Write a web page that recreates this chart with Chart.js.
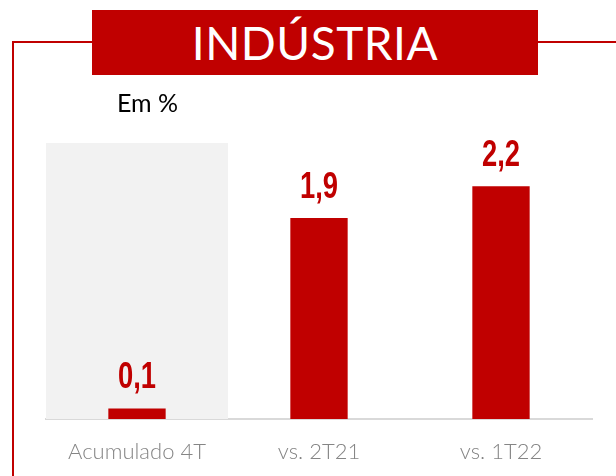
<!DOCTYPE html>
<html>
<head>
<meta charset="utf-8">
<script src="https://cdn.jsdelivr.net/npm/chart.js@4.4.0/dist/chart.umd.min.js"></script>
<style>
  html, body { margin: 0; padding: 0; background: #fff; }
  #wrap { position: relative; width: 616px; height: 476px; overflow: hidden; font-family: Lato, "Open Sans", sans-serif; }
  #wrap canvas { position: absolute; left: 0; top: 0; }
  .frame-top { position: absolute; top: 41px; height: 2px; background: #c00000; }
  .frame-left { position: absolute; left: 12px; top: 41px; width: 2px; height: 440px; background: #c00000; }
  #title {
    position: absolute; left: 92px; top: 10px; width: 446px; height: 65px;
    background: #c00000; color: #fff; font-size: 46px; line-height: 65px;
    text-align: center; letter-spacing: 0.5px;
  }
  #unit { position: absolute; left: 117px; top: 87px; font-size: 25px; color: #000; }
</style>
</head>
<body>
<div id="wrap">
  <canvas id="chart" width="616" height="476"></canvas>
  <div class="frame-top" style="left:12px;width:80px"></div>
  <div class="frame-top" style="left:538px;width:78px"></div>
  <div class="frame-left"></div>
  <div id="title">INDÚSTRIA</div>
  <div id="unit">Em %</div>
</div>
<script>
const categories = ['Acumulado 4T', 'vs. 2T21', 'vs. 1T22'];
const values = [0.1, 1.9, 2.2];
const valueLabels = ['0,1', '1,9', '2,2'];

const RED = '#c00000';

// gray panel behind the first category
const panelPlugin = {
    id: 'panel',
    beforeDatasetsDraw(chart) {
        const { ctx, chartArea, scales } = chart;
        const x = scales.x;
        const left = chartArea.left;
        const right = (x.getPixelForValue(0) + x.getPixelForValue(1)) / 2;
        ctx.save();
        ctx.fillStyle = '#f2f2f2';
        ctx.fillRect(left, chartArea.top, right - left, chartArea.bottom - chartArea.top);
        ctx.restore();
    }
};

// condensed bold value labels above the bars
const valuePlugin = {
    id: 'values',
    afterDatasetsDraw(chart) {
        const { ctx } = chart;
        const meta = chart.getDatasetMeta(0);
        meta.data.forEach((bar, i) => {
            ctx.save();
            ctx.fillStyle = RED;
            ctx.font = 'bold 36px "Liberation Sans", sans-serif';
            ctx.textAlign = 'center';
            ctx.textBaseline = 'alphabetic';
            ctx.translate(bar.x, bar.y - 20);
            ctx.scale(0.76, 1);
            ctx.fillText(valueLabels[i], 0, 0);
            ctx.restore();
        });
    }
};

new Chart(document.getElementById('chart'), {
    type: 'bar',
    data: {
        labels: categories,
        datasets: [{
            data: values,
            backgroundColor: RED,
            borderWidth: 0,
            categoryPercentage: 1,
            barPercentage: 0.315
        }]
    },
    options: {
        responsive: false,
        animation: false,
        layout: { padding: { left: 46, right: 24, top: 143, bottom: 12 } },
        plugins: {
            legend: { display: false },
            tooltip: { enabled: false }
        },
        scales: {
            x: {
                grid: { display: false, drawTicks: false },
                border: { display: true, color: '#d9d9d9', width: 2 },
                ticks: {
                    color: '#858585',
                    padding: 20,
                    font: { family: 'Lato', size: 22, weight: '300' }
                },
                afterFit(scale) { scale.height = 45; }
            },
            y: {
                display: false,
                min: 0,
                max: 2.61
            }
        }
    },
    plugins: [panelPlugin, valuePlugin]
});
</script>
</body>
</html>
